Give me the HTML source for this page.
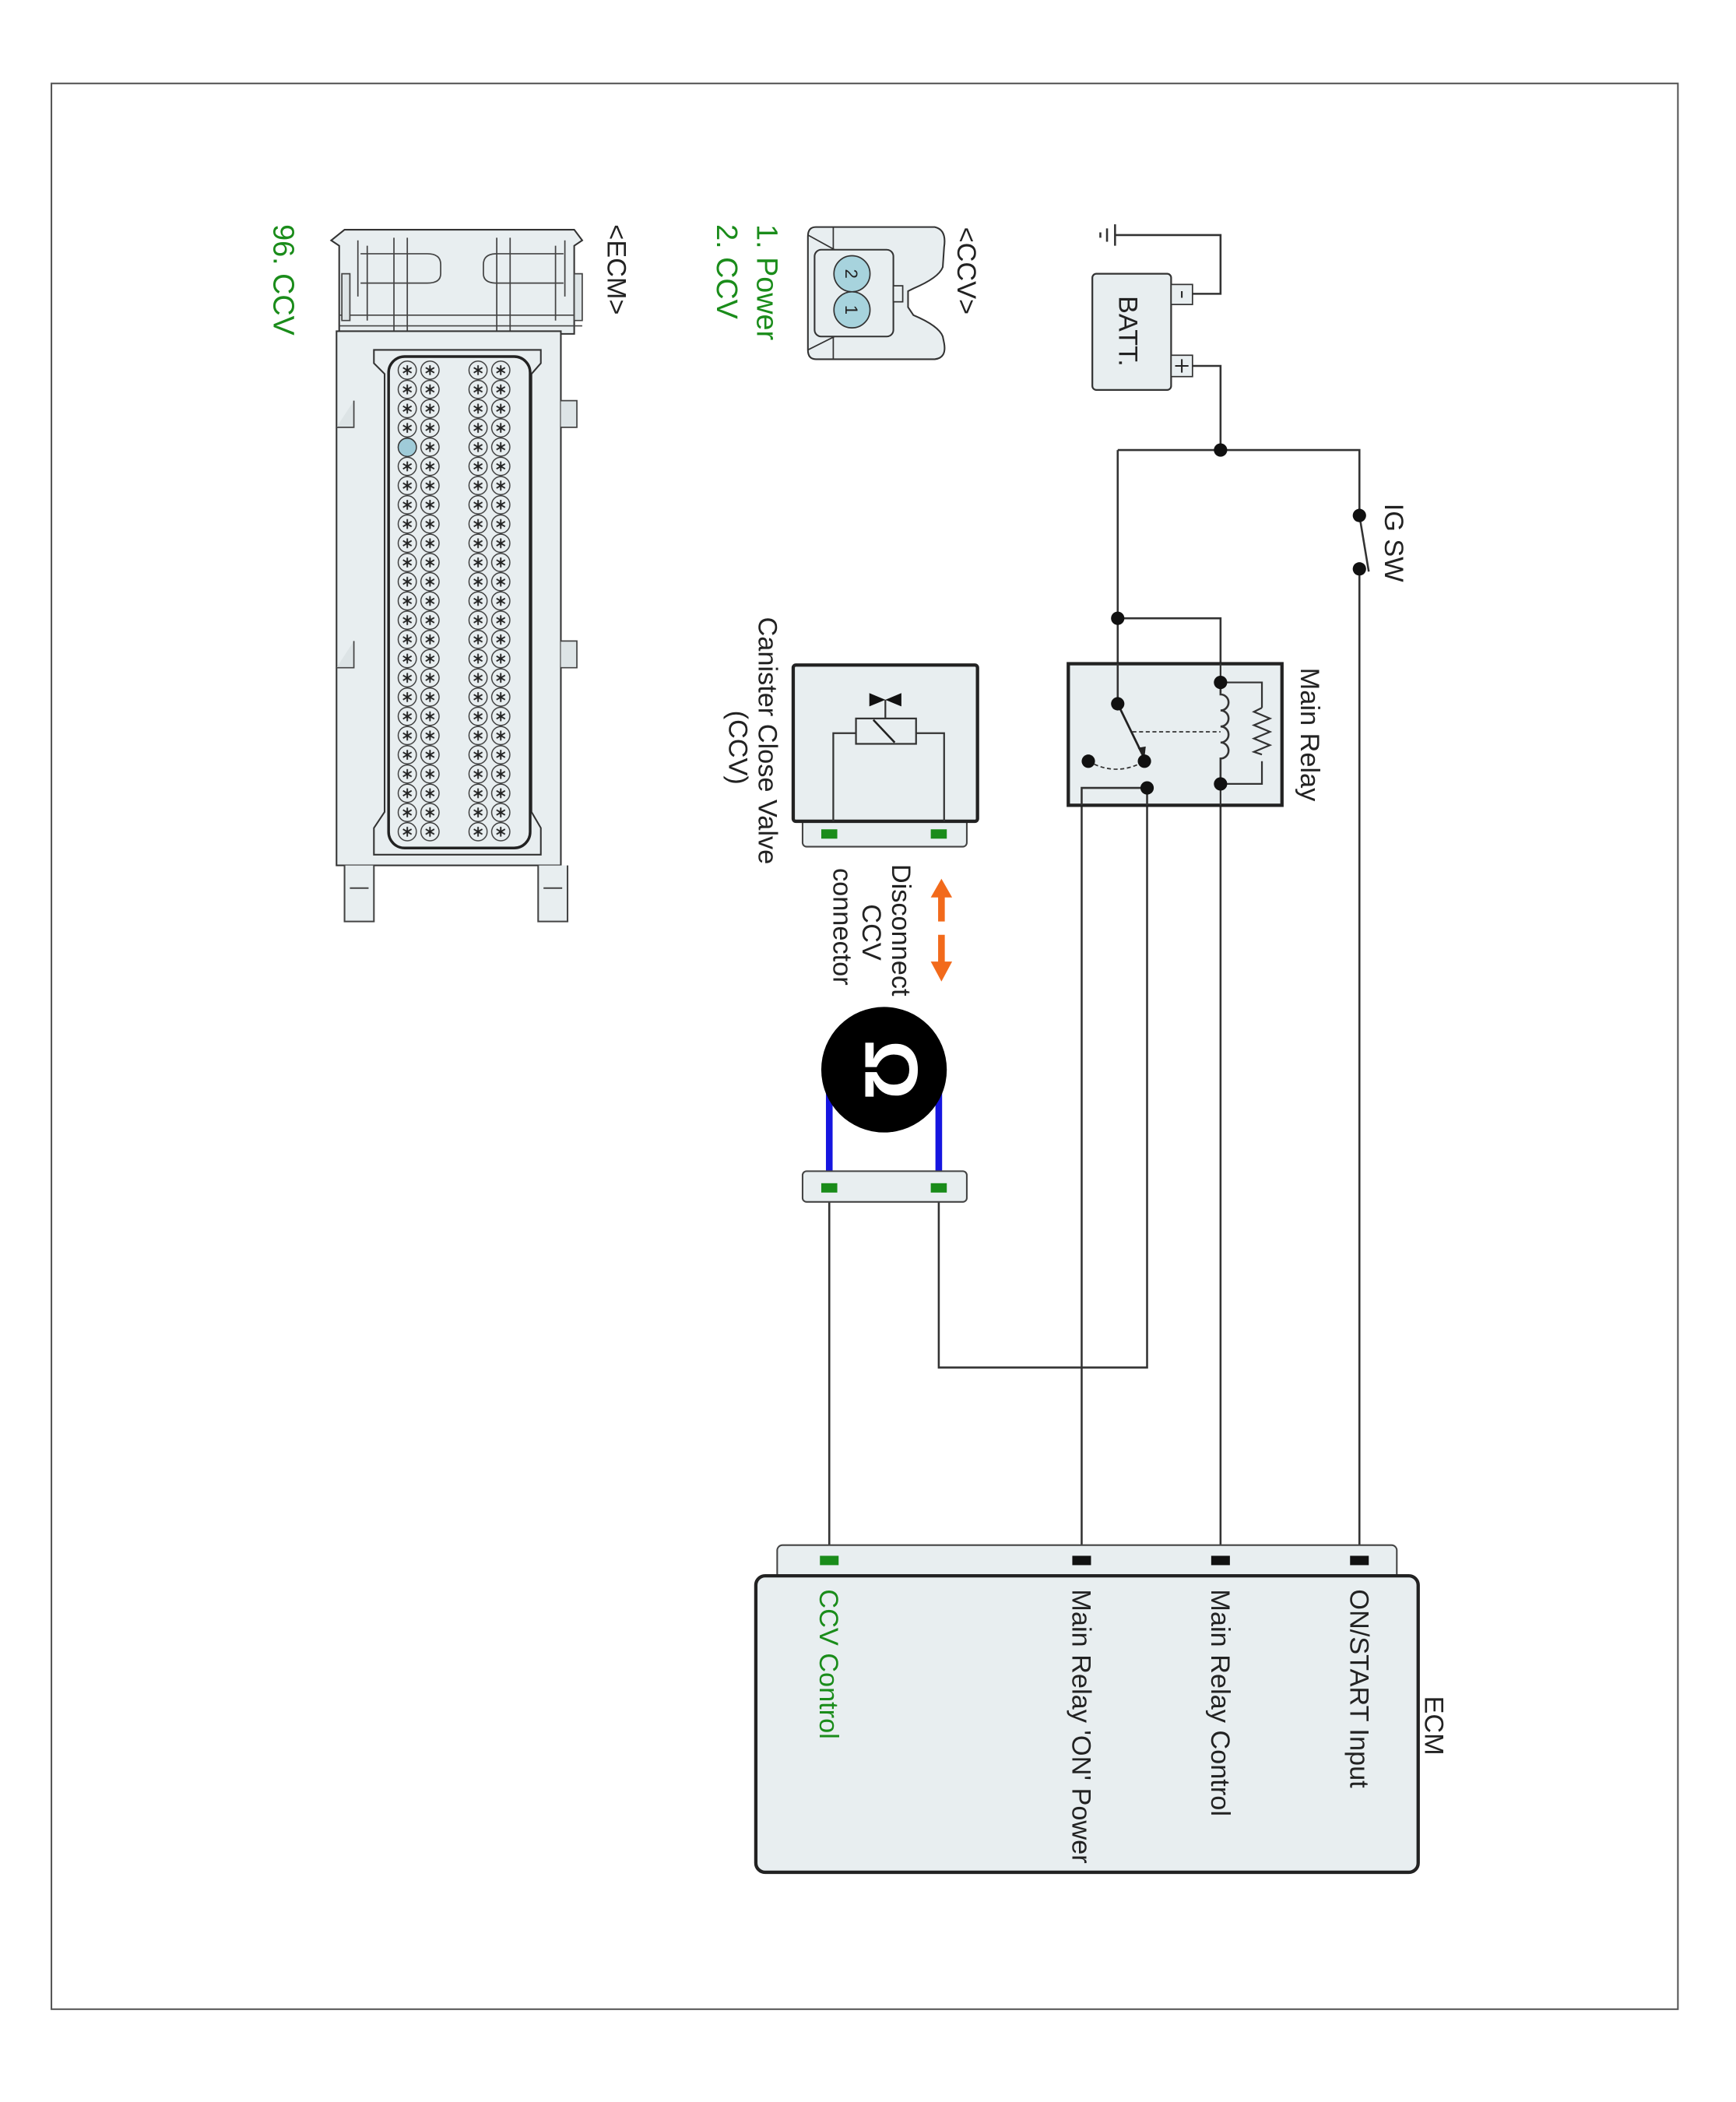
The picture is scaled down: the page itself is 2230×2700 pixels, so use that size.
<!DOCTYPE html>
<html><head><meta charset="utf-8"><style>
html,body{margin:0;padding:0;background:#fff}
svg{display:block}
text{font-family:"Liberation Sans",Arial,sans-serif}
</style></head><body>
<svg width="2230" height="2700" viewBox="0 0 1300 1574" xmlns="http://www.w3.org/2000/svg">
<defs>
<pattern id="pins" x="349.5" y="270" width="17" height="14.4" patternUnits="userSpaceOnUse">
<circle cx="8.5" cy="7.2" r="6.8" fill="#e8eef0" stroke="#333" stroke-width="0.8"/>
<path d="M8.5 3.5V10.9M5.3 5.3L11.7 9.1M11.7 5.3L5.3 9.1" stroke="#222" stroke-width="1.1"/>
</pattern>
<pattern id="pins2" x="296.5" y="270" width="17" height="14.4" patternUnits="userSpaceOnUse">
<circle cx="8.5" cy="7.2" r="6.8" fill="#e8eef0" stroke="#333" stroke-width="0.8"/>
<path d="M8.5 3.5V10.9M5.3 5.3L11.7 9.1M11.7 5.3L5.3 9.1" stroke="#222" stroke-width="1.1"/>
</pattern>
</defs>
<rect x="0" y="0" width="1300" height="1574" fill="#fff"/>
<rect x="38.5" y="62.5" width="1218" height="1442" fill="none" stroke="#555" stroke-width="1.2"/>

<g stroke="#333" stroke-width="1.5" fill="none">
<path d="M835 176H914V220H893"/>
<path d="M893 274H914V337"/>
<path d="M837 337H1018V386"/>
<path d="M1018 426V1168"/>
<path d="M1018 386L1025 428"/>
<path d="M837 337V527"/>
<path d="M837 463H914V511"/>
<path d="M914 587V1168"/>
<path d="M859 590H810V1168"/>
<path d="M859 590V1024H703V889"/>
<path d="M621 889V1168"/>
</g>
<path d="M835 168V184M829 171V181M824 174V178" stroke="#333" stroke-width="1.5"/>

<rect x="818" y="205" width="59" height="87" rx="3" fill="#e8eef0" stroke="#333" stroke-width="1.3"/>
<rect x="877" y="213" width="16" height="15" fill="#e8eef0" stroke="#333" stroke-width="1"/>
<rect x="877" y="266" width="16" height="16" fill="#e8eef0" stroke="#333" stroke-width="1"/>
<path d="M885 218v5M880 274h10M885 269v10" stroke="#222" stroke-width="1.2"/>
<text transform="translate(838,248) rotate(90)" font-size="20" text-anchor="middle" fill="#222">BATT.</text>

<circle cx="1018" cy="386" r="5" fill="#111"/>
<circle cx="1018" cy="426" r="5" fill="#111"/>
<text transform="translate(1037,377) rotate(90)" font-size="20" fill="#222">IG SW</text>
<circle cx="914" cy="337" r="5" fill="#111"/>
<circle cx="837" cy="463" r="5" fill="#111"/>

<rect x="800" y="497" width="160" height="106" fill="#e8eef0" stroke="#222" stroke-width="2.5"/>
<g stroke="#333" stroke-width="1.5" fill="none">
<path d="M837 497V527"/>
<path d="M859 590H810V603M859 590V603"/>
</g>
<path d="M914 497V511H945V587H914V603" stroke="#333" stroke-width="1.3" fill="none"/>
<path d="M914 511V520 a6 6 0 0 1 0 12 a6 6 0 0 1 0 12 a6 6 0 0 1 0 12 a6 6 0 0 1 0 12 V587" stroke="#333" stroke-width="1.5" fill="#e8eef0"/>
<rect x="942" y="530" width="6" height="40" fill="#e8eef0"/>
<path d="M945 530l-6 3 12 5 -12 5 12 5 -12 5 12 5 -12 5 6 2" stroke="#333" stroke-width="1.3" fill="none"/>
<path d="M848 548H914" stroke="#333" stroke-width="1" stroke-dasharray="3,2"/>
<path d="M837 527L856 566" stroke="#222" stroke-width="1.6"/>
<path d="M852 560l5 8 1-9z" fill="#222"/>
<path d="M815 570Q836 582 857 570" stroke="#333" stroke-width="1" fill="none" stroke-dasharray="3,2"/>
<circle cx="837" cy="527" r="5" fill="#111"/>
<circle cx="914" cy="511" r="5" fill="#111"/>
<circle cx="914" cy="587" r="5" fill="#111"/>
<circle cx="857" cy="570" r="5" fill="#111"/>
<circle cx="815" cy="570" r="5" fill="#111"/>
<circle cx="859" cy="590" r="5" fill="#111"/>
<text transform="translate(974,500) rotate(90)" font-size="20" fill="#222">Main Relay</text>

<rect x="601" y="610" width="123" height="24" rx="3" fill="#e8eef0" stroke="#444" stroke-width="1.2"/>
<rect x="594" y="498" width="138" height="117" rx="2" fill="#e8eef0" stroke="#222" stroke-width="2.5"/>
<rect x="615" y="621" width="12" height="7" fill="#1a8c1a"/>
<rect x="697" y="621" width="12" height="7" fill="#1a8c1a"/>
<path d="M624 615V549H641M686 549H707V615" stroke="#333" stroke-width="1.3" fill="none"/>
<rect x="641" y="538" width="45" height="19" fill="#e8eef0" stroke="#333" stroke-width="1.3"/>
<path d="M654 539L670 556" stroke="#222" stroke-width="1.5"/>
<path d="M663 538V524" stroke="#333" stroke-width="1.3"/>
<path d="M651 519L663 524L651 529ZM675 519L663 524L675 529Z" fill="#111"/>
<text transform="translate(568,462) rotate(90)" font-size="20" fill="#222">Canister Close Valve</text>
<text transform="translate(546,532) rotate(90)" font-size="20" fill="#222">(CCV)</text>

<path d="M705 690V670" stroke="#f26a1b" stroke-width="5"/>
<path d="M697 672L705 658L713 672Z" fill="#f26a1b"/>
<path d="M705 700V722" stroke="#f26a1b" stroke-width="5"/>
<path d="M697 720L705 735L713 720Z" fill="#f26a1b"/>
<text transform="translate(668,647) rotate(90)" font-size="20" fill="#222">Disconnect</text>
<text transform="translate(646,677) rotate(90)" font-size="20" fill="#222">CCV</text>
<text transform="translate(624,650) rotate(90)" font-size="20" fill="#222">connector</text>

<path d="M621 812V885M703 812V885" stroke="#1515e0" stroke-width="5"/>
<circle cx="662" cy="801" r="47" fill="#000"/>
<text transform="translate(648,801) rotate(90)" font-size="56" font-weight="bold" text-anchor="middle" fill="#fff">Ω</text>
<rect x="601" y="877" width="123" height="23" rx="3" fill="#e8eef0" stroke="#444" stroke-width="1.2"/>
<rect x="615" y="886" width="12" height="7" fill="#1a8c1a"/>
<rect x="697" y="886" width="12" height="7" fill="#1a8c1a"/>

<rect x="582" y="1157" width="464" height="30" rx="4" fill="#e8eef0" stroke="#444" stroke-width="1.2"/>
<rect x="566" y="1180" width="496" height="222" rx="7" fill="#e8eef0" stroke="#222" stroke-width="2.5"/>
<rect x="614" y="1165" width="14" height="7" fill="#1a8c1a"/>
<rect x="803" y="1165" width="14" height="7" fill="#111"/>
<rect x="907" y="1165" width="14" height="7" fill="#111"/>
<rect x="1011" y="1165" width="14" height="7" fill="#111"/>
<text transform="translate(1067,1270) rotate(90)" font-size="20" fill="#222">ECM</text>
<text transform="translate(1011,1190) rotate(90)" font-size="20" fill="#222">ON/START Input</text>
<text transform="translate(907,1190) rotate(90)" font-size="20" fill="#222">Main Relay Control</text>
<text transform="translate(803,1190) rotate(90)" font-size="20" fill="#222">Main Relay 'ON' Power</text>
<text transform="translate(614,1190) rotate(90)" font-size="20" fill="#1a8c1a">CCV Control</text>

<text transform="translate(717,170) rotate(90)" font-size="20" fill="#222">&lt;CCV&gt;</text>
<path d="M611 170H700Q709 172 707 185L706 200Q703 208 684 216L680 218V221V230L684 236Q703 244 706 252L707 257Q709 268 700 269H611Q605 269 605 262V177Q605 170 611 170Z" fill="#e8eef0" stroke="#333" stroke-width="1.2"/>
<path d="M605 176L625 187M605 262L625 252M624 170V187M624 252V269" stroke="#333" stroke-width="1"/>
<rect x="610" y="187" width="59" height="65" rx="5" fill="#e8eef0" stroke="#333" stroke-width="1.2"/>
<rect x="669" y="214" width="7" height="12" fill="#e8eef0" stroke="#333" stroke-width="1"/>
<circle cx="638" cy="205" r="13.5" fill="#a7d3dd" stroke="#333" stroke-width="1"/>
<circle cx="638" cy="232" r="13.5" fill="#a7d3dd" stroke="#333" stroke-width="1"/>
<text transform="translate(633,205) rotate(90)" font-size="13" text-anchor="middle" fill="#222">2</text>
<text transform="translate(633,232) rotate(90)" font-size="13" text-anchor="middle" fill="#222">1</text>
<text transform="translate(567,168) rotate(90)" font-size="22" fill="#1a8c1a">1. Power</text>
<text transform="translate(537,168) rotate(90)" font-size="22" fill="#1a8c1a">2. CCV</text>

<text transform="translate(455,168) rotate(90)" font-size="20" fill="#222">&lt;ECM&gt;</text>
<text transform="translate(205,168) rotate(90)" font-size="22" fill="#1a8c1a">96. CCV</text>
<path d="M258 172H430L436 180L430 184V250H254V184L248 180Z" fill="#e8eef0" stroke="#333" stroke-width="1.2"/>
<path d="M268 180V222M275 184V240M423 180V222M416 184V240M295 178V248M305 178V248M372 178V248M382 178V248M270 190H320Q330 190 330 198V205Q330 212 320 212H270M422 190H372Q362 190 362 198V205Q362 212 372 212H422M254 236H436M254 244H436" stroke="#444" stroke-width="1" fill="none"/>
<path d="M256 205H262V240H256ZM430 205H436V240H430Z" fill="#dde4e6" stroke="#444" stroke-width="1"/>
<rect x="252" y="248" width="168" height="400" fill="#e8eef0" stroke="#333" stroke-width="1.2"/>
<path d="M280 262H405V272L398 280V608L405 620V640H280V620L288 608V280L280 272Z" fill="#e8eef0" stroke="#333" stroke-width="1.2"/>
<rect x="291" y="267" width="106" height="368" rx="12" fill="#e8eef0" stroke="#222" stroke-width="2"/>
<path d="M265 300V320H252M420 300H432V320H420M265 480V500H252M420 480H432V500H420" stroke="#444" stroke-width="1" fill="#dde4e6"/>
<rect x="349.5" y="270" width="34" height="360" fill="url(#pins)"/>
<rect x="296.5" y="270" width="34" height="360" fill="url(#pins2)"/>
<circle cx="305" cy="335" r="6.8" fill="#9fcbd8" stroke="#333" stroke-width="0.8"/>
<path d="M258 648V690H280V648M403 648V690H425V648M262 665H276M407 665H421" stroke="#444" stroke-width="1.2" fill="#e8eef0"/>
</svg>
</body></html>
